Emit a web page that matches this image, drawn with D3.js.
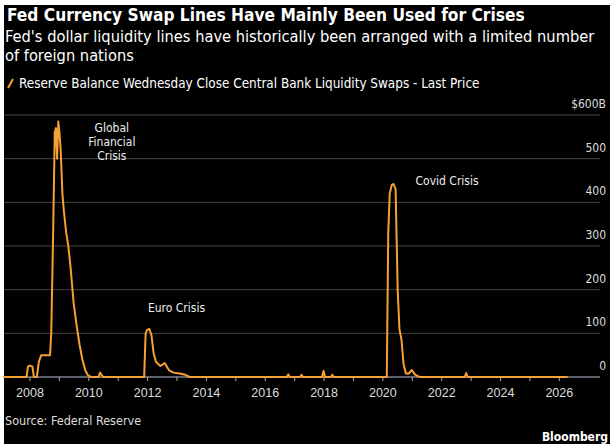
<!DOCTYPE html>
<html>
<head>
<meta charset="utf-8" />
<script src="https://d3js.org/d3.v7.min.js"></script>
<style>body{margin:0;background:#fff}</style>
</head>
<body>
<script>
// values in $ billions, date as decimal year
var dates  = [2007.1,2007.9,2007.95,2008.0,2008.1,2008.15,2008.25,2008.32,2008.4,2008.5,2008.7,2008.74,2008.8,2008.86,2008.9,2008.94,2008.98,2009.02,2009.06,2009.12,2009.17,2009.25,2009.32,2009.4,2009.5,2009.6,2009.7,2009.8,2009.9,2010.0,2010.1,2010.35,2010.4,2010.5,2011.9,2011.95,2012.0,2012.08,2012.15,2012.22,2012.3,2012.45,2012.6,2012.75,2012.9,2013.1,2013.3,2013.45,2016.75,2016.8,2016.85,2017.2,2017.25,2017.3,2017.95,2018.0,2018.05,2018.25,2018.3,2018.35,2020.15,2020.2,2020.25,2020.32,2020.38,2020.45,2020.52,2020.58,2020.65,2020.72,2020.8,2020.9,2021.0,2021.1,2021.2,2021.3,2022.8,2022.85,2022.9,2026.3];
var values = [0,0,24,26,24,0,0,35,50,50,50,100,310,560,570,500,585,560,520,420,380,330,300,250,170,120,75,40,15,3,0,0,10,0,0,100,108,110,95,55,35,25,32,15,10,8,5,0,0,6,0,0,5,0,0,14,0,0,5,0,0,330,420,440,442,430,200,110,85,30,8,8,16,6,2,0,0,9,0,0];
var yTicks = [0,100,200,300,400,500,600];
var xTicks = [2008,2010,2012,2014,2016,2018,2020,2022,2024,2026];
var notes = [{x:2010.8,y:560,lines:["Global","Financial","Crisis"]},{x:2013.0,y:150,lines:["Euro Crisis"]},{x:2022.2,y:440,lines:["Covid Crisis"]}];

var W=614,H=448;
var svg=d3.select("body").append("svg").attr("width",W).attr("height",H)
  .style("font-family","'DejaVu Sans Condensed','Liberation Sans Narrow',sans-serif");
svg.append("rect").attr("width",W).attr("height",H).attr("fill","#fff");
svg.append("rect").attr("x",4).attr("y",5).attr("width",606).attr("height",439).attr("fill","#000");

var x=d3.scaleLinear().domain([2007.1,2027.4]).range([3,600]);
var y=d3.scaleLinear().domain([0,600]).range([377,115]);

svg.append("text").attr("x",7).attr("y",21).attr("fill","#fff").attr("font-weight","bold").attr("font-size",17.2)
  .text("Fed Currency Swap Lines Have Mainly Been Used for Crises");
svg.append("text").attr("x",5).attr("y",42).attr("fill","#fff").attr("font-size",16.3)
  .text("Fed's dollar liquidity lines have historically been arranged with a limited number");
svg.append("text").attr("x",5).attr("y",61).attr("fill","#fff").attr("font-size",16.3).text("of foreign nations");
svg.append("line").attr("x1",8).attr("x2",13).attr("y1",88).attr("y2",79).attr("stroke","#f5a030").attr("stroke-width",2);
svg.append("text").attr("x",19).attr("y",88).attr("fill","#fff").attr("font-size",13.4)
  .text("Reserve Balance Wednesday Close Central Bank Liquidity Swaps - Last Price");

var grid=svg.append("g");
grid.selectAll("line").data(yTicks.slice(1)).enter().append("line")
  .attr("x1",4).attr("x2",600).attr("y1",function(d){return y(d);}).attr("y2",function(d){return y(d);})
  .attr("stroke","#444").attr("stroke-width",1);
svg.append("g").selectAll("text").data(yTicks).enter().append("text")
  .attr("x",606).attr("y",function(d){return y(d)-7;}).attr("text-anchor","end")
  .attr("fill","#ddd").attr("font-size",12)
  .text(function(d){return d==600?"$600B":d;});

var xa=svg.append("g").attr("transform","translate(0,377)")
  .call(d3.axisBottom(x).tickValues(d3.range(2008,2027)).tickSize(4).tickFormat(function(d){return xTicks.indexOf(d)>=0?d:"";}));
xa.select(".domain").attr("stroke","#b8c4d8").attr("d","M4,0H600");
xa.selectAll(".tick line").attr("stroke","#aaa");
xa.selectAll("text").attr("fill","#ddd").attr("font-size",12.5).attr("dy","1.05em").style("font-family","inherit");

svg.append("path").datum(d3.range(dates.length)).attr("fill","none").attr("stroke","#f7a033").attr("stroke-width",2)
  .attr("stroke-linejoin","round")
  .attr("d",d3.line().x(function(i){return x(dates[i]);}).y(function(i){return y(values[i]);}));

notes.forEach(function(n){
  var t=svg.append("text").attr("fill","#eee").attr("font-size",12).attr("text-anchor","middle");
  n.lines.forEach(function(l,k){t.append("tspan").attr("x",x(n.x)).attr("y",y(n.y)+k*14).text(l);});
});

svg.append("text").attr("x",5).attr("y",425).attr("fill","#ddd").attr("font-size",12.5).text("Source: Federal Reserve");
svg.append("text").attr("x",608).attr("y",441).attr("text-anchor","end").attr("fill","#fff").attr("font-weight","bold").attr("font-size",12).text("Bloomberg");
</script>
</body>
</html>
